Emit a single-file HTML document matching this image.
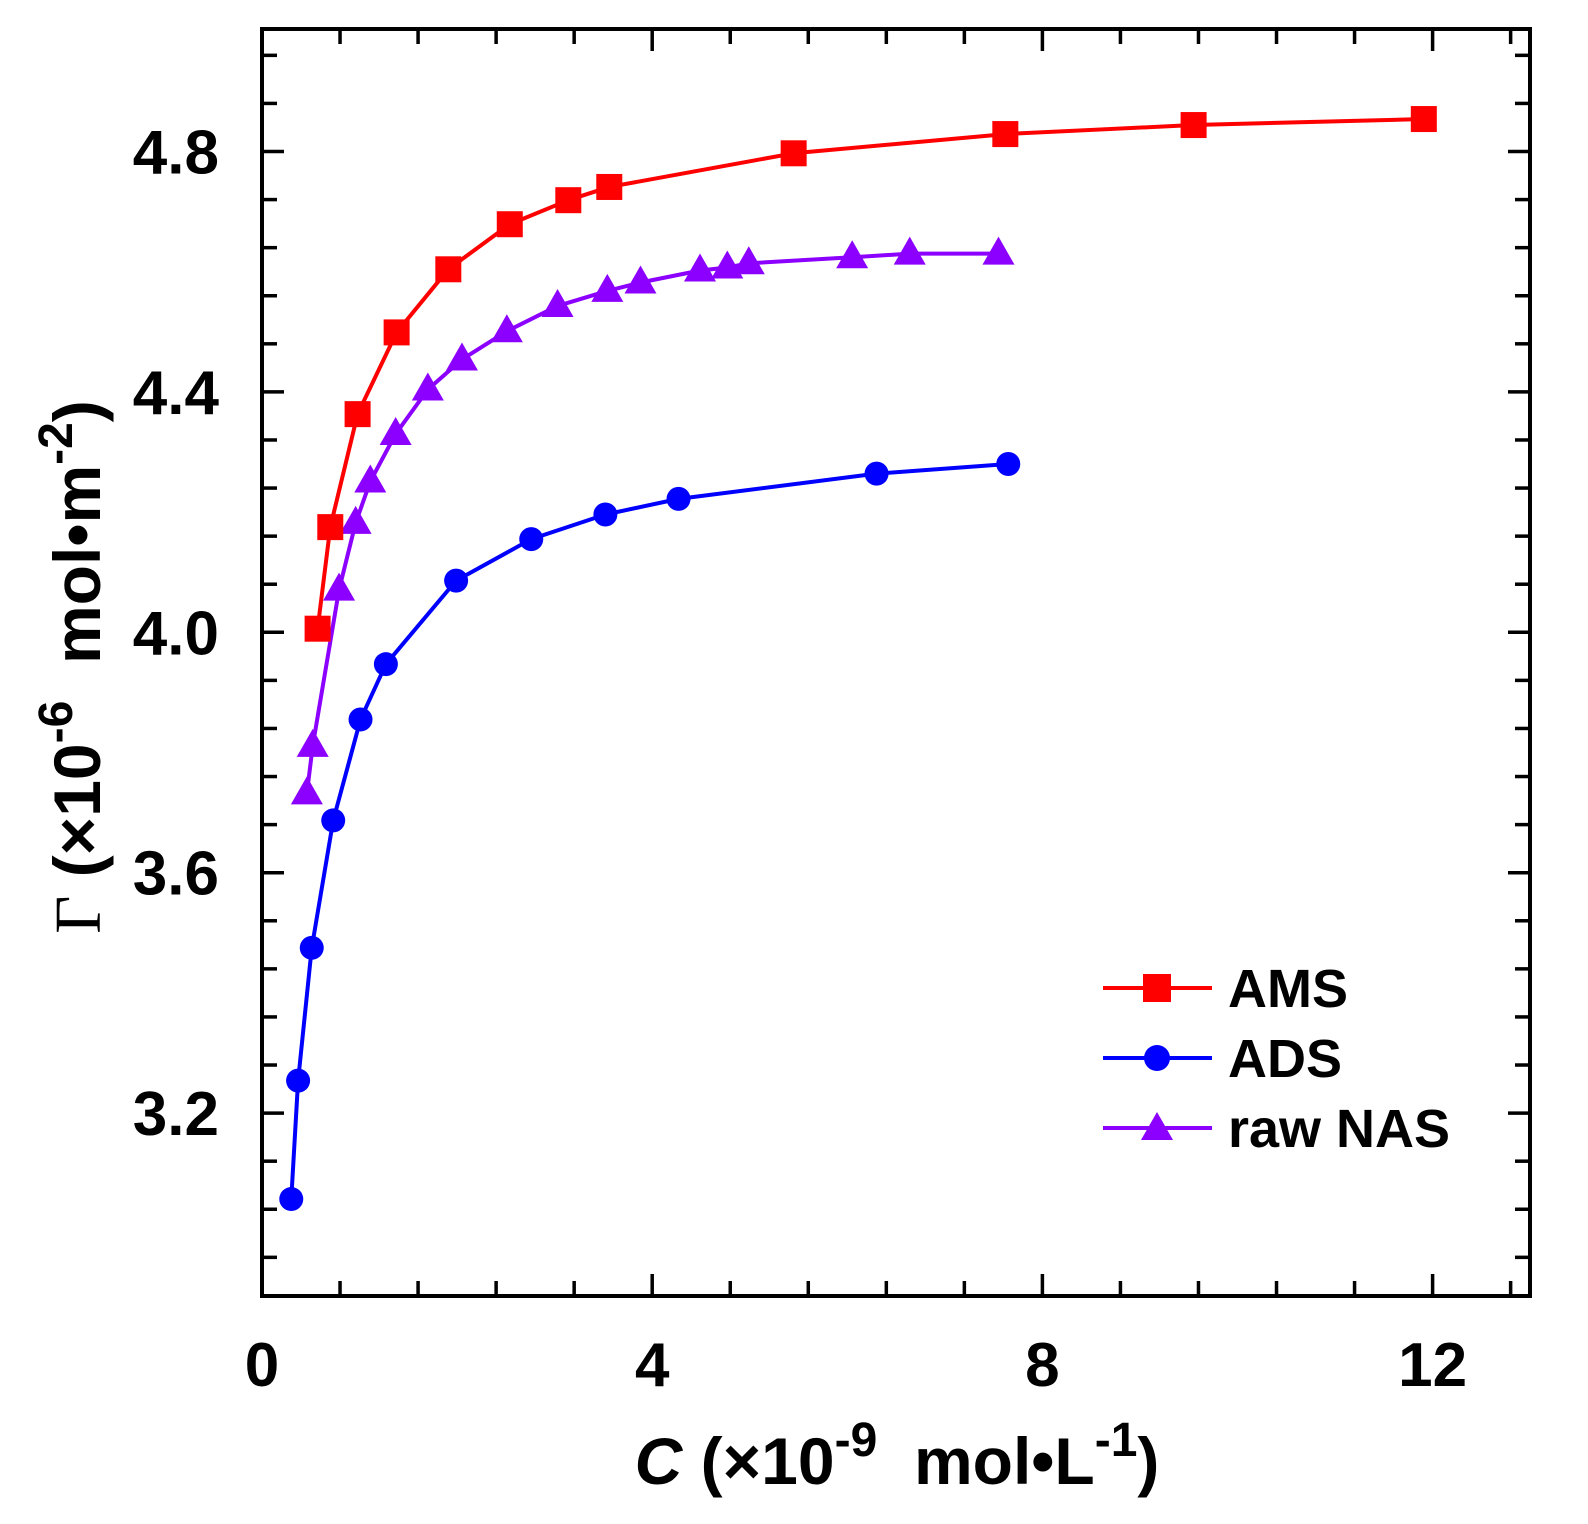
<!DOCTYPE html>
<html><head><meta charset="utf-8">
<style>
html,body{margin:0;padding:0;background:#fff;}
svg{display:block;}
text{font-family:"Liberation Sans",Arial,sans-serif;font-weight:bold;fill:#000;}
</style></head>
<body>
<svg id="s" width="1588" height="1524" viewBox="0 0 1588 1524" xmlns="http://www.w3.org/2000/svg">
<rect width="1588" height="1524" fill="#fff"/>
<g id="g"></g>
<line x1="1103" y1="988" x2="1212" y2="988" stroke="#ff0000" stroke-width="4"/>
<rect x="1143" y="974" width="28" height="28" fill="#ff0000"/>
<text x="1228" y="1007" font-size="54">AMS</text>
<line x1="1103" y1="1058" x2="1212" y2="1058" stroke="#0000ff" stroke-width="4"/>
<circle cx="1157" cy="1058" r="13" fill="#0000ff"/>
<text x="1228" y="1077" font-size="54">ADS</text>
<line x1="1103" y1="1128" x2="1212" y2="1128" stroke="#8b00ff" stroke-width="4"/>
<polygon points="1157,1112 1173,1140 1141,1140" fill="#8b00ff"/>
<text x="1228" y="1147" font-size="54">raw NAS</text>
<text x="897" y="1484" font-size="66" text-anchor="middle" xml:space="preserve"><tspan font-style="italic">C</tspan> (×10<tspan font-size="48" dy="-28">-9</tspan><tspan dy="28">  mol•L</tspan><tspan font-size="48" dy="-28">-1</tspan><tspan dy="28">)</tspan></text>
<text transform="translate(100,667) rotate(-90)" font-size="66" text-anchor="middle" xml:space="preserve"><tspan font-family="Liberation Serif" font-weight="normal">Γ</tspan> (×10<tspan font-size="48" dy="-28">-6</tspan><tspan dy="28">  mol•m</tspan><tspan font-size="48" dy="-28">-2</tspan><tspan dy="28">)</tspan></text>
</svg>
<script>
const X=v=>262+v*97.55, Y=v=>151.5+(4.8-v)*601;
const g=document.getElementById('g');let h='';
const L=262,R=1530,T=29,B=1296;
for(let i=0;i<=16;i++){const v=i*0.8;const x=X(v);if(x>R)break;const maj=(i%5==0);const len=maj?22:15;
h+=`<line x1="${x}" y1="${B}" x2="${x}" y2="${B-len}" stroke="#000" stroke-width="3.5"/>`;
h+=`<line x1="${x}" y1="${T}" x2="${x}" y2="${T+len}" stroke="#000" stroke-width="3.5"/>`;
if(maj)h+=`<text x="${x}" y="1386" font-size="62" text-anchor="middle">${Math.round(v)}</text>`;}
for(let i=-30;i<=30;i++){const v=3.2+i*0.08;const y=Y(v);if(y<T+2||y>B-2)continue;const maj=(((i%5)+5)%5==0);const len=maj?22:15;
h+=`<line x1="${L}" y1="${y}" x2="${L+len}" y2="${y}" stroke="#000" stroke-width="3.5"/>`;
h+=`<line x1="${R}" y1="${y}" x2="${R-len}" y2="${y}" stroke="#000" stroke-width="3.5"/>`;
if(maj)h+=`<text x="219" y="${y+22}" font-size="62" text-anchor="end">${v.toFixed(1)}</text>`;}
h+=`<rect x="${L}" y="${T}" width="${R-L}" height="${B-T}" fill="none" stroke="#000" stroke-width="4"/>`;
const ams=[[0.57,4.006],[0.70,4.175],[0.98,4.363],[1.38,4.499],[1.91,4.604],[2.54,4.679],[3.14,4.719],[3.56,4.741],[5.45,4.797],[7.62,4.829],[9.55,4.844],[11.91,4.854]];
const ads=[[0.30,3.057],[0.37,3.254],[0.51,3.475],[0.73,3.687],[1.01,3.855],[1.27,3.947],[1.99,4.086],[2.76,4.155],[3.52,4.196],[4.27,4.222],[6.30,4.264],[7.65,4.280]];
const nas=[[0.46,3.732],[0.52,3.811],[0.79,4.071],[0.96,4.182],[1.11,4.251],[1.37,4.330],[1.70,4.404],[2.05,4.454],[2.51,4.501],[3.03,4.543],[3.54,4.568],[3.88,4.582],[4.49,4.602],[4.77,4.607],[4.99,4.614],[6.05,4.624],[6.64,4.630],[7.55,4.630]];
function line(d,c){return `<polyline fill="none" stroke="${c}" stroke-width="4" stroke-linejoin="round" points="${d.map(p=>X(p[0])+','+Y(p[1])).join(' ')}"/>`;}
h+=line(nas,'#8b00ff')+line(ads,'#0000ff')+line(ams,'#ff0000');
nas.forEach(p=>{const x=X(p[0]),y=Y(p[1]);h+=`<polygon points="${x},${y-17} ${x+16},${y+11} ${x-16},${y+11}" fill="#8b00ff"/>`;});
ads.forEach(p=>{h+=`<circle cx="${X(p[0])}" cy="${Y(p[1])}" r="12" fill="#0000ff"/>`;});
ams.forEach(p=>{h+=`<rect x="${X(p[0])-13}" y="${Y(p[1])-13}" width="26" height="26" fill="#ff0000"/>`;});
g.innerHTML=h;
</script>
</body></html>
